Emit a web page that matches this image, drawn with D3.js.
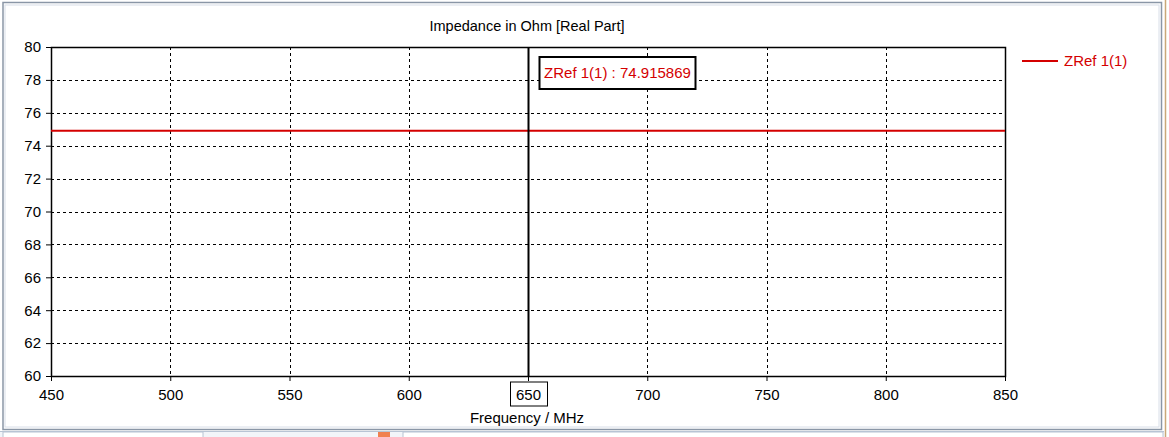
<!DOCTYPE html>
<html>
<head>
<meta charset="utf-8">
<script src="https://cdn.jsdelivr.net/npm/d3@7"></script>
<style>
body { margin: 0; background: #fff; }
svg { display: block; font-family: "Liberation Sans", Arial, sans-serif; }
</style>
</head>
<body>
<svg width="1169" height="437"></svg>
<script>
// data
var freqDomain = [450, 850];
var zDomain = [60, 80];
var xTicks = [450, 500, 550, 600, 650, 700, 750, 800, 850];
var yTicks = [60, 62, 64, 66, 68, 70, 72, 74, 76, 78, 80];
var freqs = [450, 850];
var zref = [74.915869, 74.915869];
var markerFreq = 650;
var markerValue = 74.915869;
var seriesName = "ZRef 1(1)";

var svg = d3.select("svg");
var margin = {left: 51, top: 47};
var width = 954, height = 329;
var font = "Liberation Sans, Arial, sans-serif";

// window frame
svg.append("rect").attr("x", 0).attr("y", 0).attr("width", 1169).attr("height", 437).attr("fill", "#fff");
svg.append("rect").attr("x", 3).attr("y", 2.5).attr("width", 1158.5).attr("height", 427)
  .attr("fill", "none").attr("stroke", "#8a96a6").attr("stroke-width", 1.5);
svg.append("rect").attr("x", 5).attr("y", 5).attr("width", 1154).attr("height", 422)
  .attr("fill", "none").attr("stroke", "#d8dee8").attr("stroke-width", 1);
svg.append("line").attr("x1", 1165.5).attr("x2", 1165.5).attr("y1", 0).attr("y2", 437)
  .attr("stroke", "#c9a878").attr("stroke-width", 1.5);
svg.append("rect").attr("x", 0).attr("y", 431).attr("width", 1164).attr("height", 6).attr("fill", "#f2f5f9");
svg.append("line").attr("x1", 0).attr("x2", 1164).attr("y1", 431.5).attr("y2", 431.5).attr("stroke", "#b8c4d4");
svg.append("rect").attr("x", 3).attr("y", 432).attr("width", 200).attr("height", 6).attr("fill", "#fff").attr("stroke", "#b8c4d4");
svg.append("rect").attr("x", 403).attr("y", 432).attr("width", 760).attr("height", 6).attr("fill", "#fff").attr("stroke", "#b8c4d4");
svg.append("rect").attr("x", 378).attr("y", 432).attr("width", 12).attr("height", 5).attr("fill", "#f08050");

var x = d3.scaleLinear().domain(freqDomain).range([0, width]);
var y = d3.scaleLinear().domain(zDomain).range([height, 0]);

var g = svg.append("g").attr("transform", "translate(" + margin.left + "," + margin.top + ")");

// grid
g.selectAll(".vgrid").data(xTicks.slice(1, -1)).enter().append("line")
  .attr("x1", d => Math.round(x(d)) + 0.5).attr("x2", d => Math.round(x(d)) + 0.5)
  .attr("y1", 0).attr("y2", height)
  .attr("stroke", "#000").attr("stroke-dasharray", "3,3");
g.selectAll(".hgrid").data(yTicks.slice(1, -1)).enter().append("line")
  .attr("y1", d => Math.round(y(d)) + 0.5).attr("y2", d => Math.round(y(d)) + 0.5)
  .attr("x1", 0).attr("x2", width)
  .attr("stroke", "#000").attr("stroke-dasharray", "3,3");

// frame of plot area
g.append("rect").attr("x", 0.5).attr("y", 0.5).attr("width", width).attr("height", height)
  .attr("fill", "none").attr("stroke", "#000").attr("stroke-width", 1.5);

// axes
var xAxis = g.append("g").attr("transform", "translate(0," + height + ")")
  .call(d3.axisBottom(x).tickValues(xTicks).tickSize(5).tickPadding(8).tickFormat(d3.format("d")));
xAxis.select(".domain").remove();
xAxis.selectAll(".tick line").attr("stroke", "#000");

var yAxis = g.append("g")
  .call(d3.axisLeft(y).tickValues(yTicks).tickSize(5).tickPadding(5).tickFormat(d3.format("d")));
yAxis.select(".domain").remove();
yAxis.selectAll(".tick line").attr("stroke", "#000");

xAxis.attr("font-family", font).attr("font-size", 15);
yAxis.attr("font-family", font).attr("font-size", 15);
g.selectAll(".tick text").attr("fill", "#000");

// series
var line = d3.line().x(d => x(d[0])).y(d => y(d[1]));
g.append("path").datum(d3.zip(freqs, zref))
  .attr("d", line).attr("fill", "none").attr("stroke", "#d40000").attr("stroke-width", 2);

// marker
var mx = Math.round(x(markerFreq)) + 0.5;
g.append("line").attr("x1", mx).attr("x2", mx).attr("y1", 0).attr("y2", height)
  .attr("stroke", "#000").attr("stroke-width", 2);

var lbl = g.append("g").attr("transform", "translate(" + (mx + 11) + ",10)");
lbl.append("rect").attr("width", 156).attr("height", 32)
  .attr("fill", "#fff").attr("stroke", "#000").attr("stroke-width", 2);
lbl.append("text").attr("x", 78).attr("y", 21).attr("text-anchor", "middle")
  .attr("font-size", 15).attr("fill", "#d40000")
  .text(seriesName + " : " + markerValue.toFixed(6));

// marker box on x-axis tick
var tickLbl = xAxis.selectAll(".tick").filter(d => d === markerFreq);
tickLbl.append("rect").attr("x", -18).attr("y", 6).attr("width", 37).attr("height", 24)
  .attr("fill", "none").attr("stroke", "#000").attr("stroke-width", 1);

// titles
svg.append("text").attr("x", 527).attr("y", 31).attr("text-anchor", "middle")
  .attr("font-size", 14.5).attr("fill", "#000").text("Impedance in Ohm [Real Part]");
svg.append("text").attr("x", 527).attr("y", 423).attr("text-anchor", "middle")
  .attr("font-size", 15).attr("fill", "#000").text("Frequency / MHz");

// legend
svg.append("line").attr("x1", 1022).attr("x2", 1058).attr("y1", 61).attr("y2", 61)
  .attr("stroke", "#d40000").attr("stroke-width", 2);
svg.append("text").attr("x", 1064).attr("y", 66).attr("font-size", 15).attr("fill", "#d40000")
  .text(seriesName);
</script>
</body>
</html>
